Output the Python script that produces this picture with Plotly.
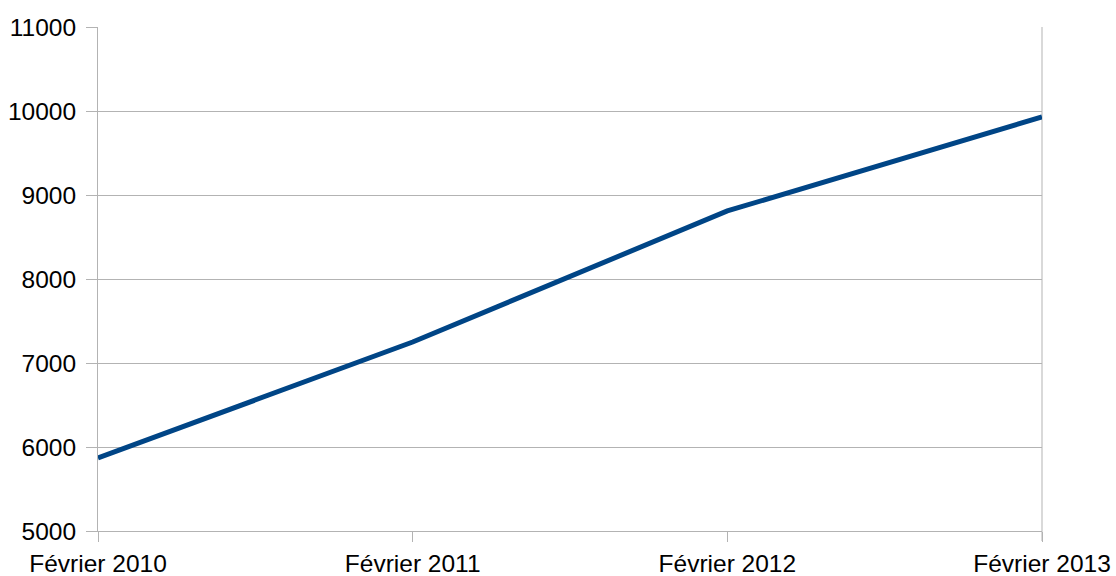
import plotly.graph_objects as go

# Monthly snapshot values, one per February
periods = ["Février 2010", "Février 2011", "Février 2012", "Février 2013"]
values = [5870, 7250, 8810, 9930]

y_ticks = [5000, 6000, 7000, 8000, 9000, 10000, 11000]

grid_col = "#b3b3b3"
font_family = "Liberation Sans, Arial, sans-serif"
label_size = 24.5

fig = go.Figure(
    go.Scatter(
        x=periods,
        y=values,
        mode="lines",
        line=dict(color="#004586", width=5),
        hoverinfo="x+y",
    )
)

fig.update_layout(
    width=1116,
    height=576,
    margin=dict(l=98, r=74, t=27, b=45),
    paper_bgcolor="white",
    plot_bgcolor="white",
    showlegend=False,
    font=dict(family=font_family, size=label_size, color="#000000"),
    xaxis=dict(
        type="category",
        range=[0, len(periods) - 1],
        showgrid=False,
        zeroline=False,
        showline=True,
        linecolor=grid_col,
        linewidth=1,
        ticks="outside",
        ticklen=10,
        tickcolor=grid_col,
        tickwidth=1,
        ticklabelstandoff=1,
        automargin=False,
        tickfont=dict(size=label_size),
    ),
    yaxis=dict(
        range=[5000, 11000],
        tickvals=y_ticks,
        ticktext=[str(v) for v in y_ticks],
        showgrid=True,
        gridcolor=grid_col,
        gridwidth=1,
        zeroline=False,
        showline=True,
        linecolor=grid_col,
        linewidth=1,
        ticks="outside",
        ticklen=11,
        tickcolor=grid_col,
        tickwidth=1,
        ticklabelstandoff=5,
        automargin=False,
        tickfont=dict(size=label_size),
    ),
    shapes=[
        # right-hand frame edge, running down through the last tick
        dict(
            type="line",
            xref="paper",
            yref="paper",
            x0=1,
            x1=1,
            y0=-10 / 504,
            y1=1,
            line=dict(color=grid_col, width=1),
            layer="below",
        )
    ],
)

fig.write_html("out.html")
